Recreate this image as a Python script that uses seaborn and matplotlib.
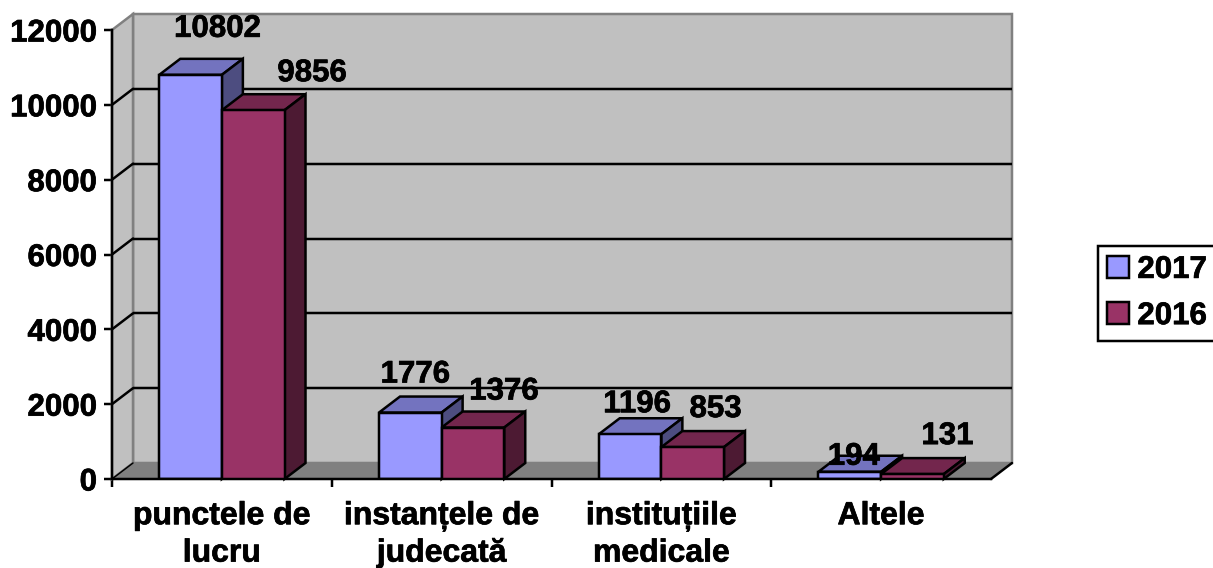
#!/usr/bin/env python3
import pandas as pd
import matplotlib
matplotlib.use('Agg')
import matplotlib.pyplot as plt
import matplotlib.patheffects as pe
from matplotlib.patches import Polygon
from matplotlib.transforms import Affine2D, IdentityTransform
import seaborn as sns

categories = ['punctele de\nlucru', 'instanțele de\njudecată', 'instituțiile\nmedicale', 'Altele']
values_2017 = [10802, 1776, 1196, 194]
values_2016 = [9856, 1376, 853, 131]
series_names = ['2017', '2016']
y_ticks = [0, 2000, 4000, 6000, 8000, 10000, 12000]

# label offsets from the bar top centre, in pixels
offsets_2017 = [(27, 46), (5, 38), (7, 30), (4, 15)]
offsets_2016 = [(59, 37), (31, 36), (23, 38), (35, 38)]

W, H = 1213, 568
DX, DY = 21, 16  # depth of the fake 3d box
LW = 2.5 * 0.72
FS = 22.5

colors = {'2017': '#9999FF', '2016': '#993366'}
top_colors = ['#7373BF', '#73264D']
side_colors = ['#4D4D80', '#4D1A33']
heavy = [pe.withStroke(linewidth=0.5, foreground='black')]

sns.set_theme(style='white')
plt.rcParams['font.family'] = ['Liberation Sans', 'DejaVu Sans']
plt.rcParams['font.weight'] = 'bold'

df = pd.DataFrame({
    'cat': categories * 2,
    'val': values_2017 + values_2016,
    'year': [series_names[0]] * 4 + [series_names[1]] * 4,
})

fig = plt.figure(figsize=(W / 100, H / 100), dpi=100)
ax = fig.add_axes([112 / W, 1 - 479 / H, (991 - 112) / W, (479 - 30) / H])
ax.patch.set_alpha(0)

sns.barplot(data=df, x='cat', y='val', hue='year', palette=colors, width=0.57, gap=0,
            dodge=True, saturation=1, edgecolor='black', linewidth=LW, ax=ax, zorder=5)
ax.set_xlim(-0.5, 3.5)
ax.set_ylim(0, 12000)
ax.set_xlabel('')
ax.set_ylabel('')
ax.set_yticks(y_ticks)
ax.tick_params(axis='y', length=5.8, width=LW, color='black', labelsize=FS, pad=5, left=True, labelcolor='black')
ax.set_xticks([-0.5, 0.5, 1.5, 2.5], minor=True)
ax.tick_params(axis='x', which='minor', length=5.8, width=LW, color='black', bottom=True)
ax.tick_params(axis='x', which='major', length=0, labelsize=23, pad=16, labelcolor='black')
for lab in ax.get_xticklabels():
    lab.set_linespacing(1.32)
    lab.set_path_effects(heavy)
for lab in ax.get_yticklabels():
    lab.set_path_effects(heavy)
for side in ['top', 'right']:
    ax.spines[side].set_visible(False)
for side in ['left', 'bottom']:
    ax.spines[side].set_color('black')
    ax.spines[side].set_linewidth(LW)
    ax.spines[side].set_zorder(6)

# back wall, left wall and floor
px = IdentityTransform()
back = ax.transData + Affine2D().translate(DX, DY)
to_px = ax.transData.transform
x0, x1 = -0.5, 3.5
top = y_ticks[-1]


def face(points, color, z, edge=None, lw=0):
    ax.add_patch(Polygon(points, closed=True, facecolor=color, edgecolor=edge or color,
                         linewidth=lw, transform=px, clip_on=False, zorder=z, joinstyle='miter'))


def shift(p):
    return (p[0] + DX, p[1] + DY)


bl, br, tl, tr = to_px((x0, 0)), to_px((x1, 0)), to_px((x0, top)), to_px((x1, top))
face([shift(bl), shift(br), shift(tr), shift(tl)], '#C0C0C0', 0.5, '#808080', LW)
face([bl, shift(bl), shift(tl), tl], '#C0C0C0', 0.6, '#808080', LW)
face([bl, br, shift(br), shift(bl)], '#808080', 0.7)

for t in y_ticks[1:-1]:
    ax.plot([x0, x1], [t, t], color='black', lw=LW, transform=back, clip_on=False, zorder=1,
            solid_capstyle='butt')
    a = to_px((x0, t))
    ax.plot([a[0], a[0] + DX], [a[1], a[1] + DY], color='black', lw=LW, transform=px,
            clip_on=False, zorder=1)
ax.plot([br[0], br[0] + DX], [br[1], br[1] + DY], color='black', lw=LW, transform=px,
        clip_on=False, zorder=1)
ax.plot([bl[0], bl[0] + DX], [bl[1], bl[1] + DY], color='black', lw=LW * 0.6, transform=px,
        clip_on=False, zorder=1)

# bars: sides and tops, later series covers the earlier one
all_offsets = [offsets_2017, offsets_2016]
for i, cont in enumerate(ax.containers):
    z = 5 + i
    for bar, off in zip(cont.patches, all_offsets[i]):
        bar.set_zorder(z + 0.2)
        xa, xb = bar.get_x(), bar.get_x() + bar.get_width()
        h = bar.get_height()
        p0, p1, p2 = to_px((xa, h)), to_px((xb, h)), to_px((xb, 0))
        face([p0, p1, shift(p1), shift(p0)], top_colors[i], z, 'black', LW)
        face([p2, p1, shift(p1), shift(p2)], side_colors[i], z, 'black', LW)
        ann = ax.annotate(f'{int(h)}', xy=((xa + xb) / 2, h), xytext=(off[0] * 0.72, off[1] * 0.72),
                          textcoords='offset points', ha='center', va='center', fontsize=FS,
                          fontweight='bold', color='black', zorder=20, annotation_clip=False)
        ann.set_path_effects(heavy)

handles, labels = ax.get_legend_handles_labels()
ax.legend_.remove()
leg = fig.legend(handles, labels, loc='center left', bbox_to_anchor=(1098 / W, 1 - 293 / H),
                 frameon=True, fancybox=False, framealpha=1, edgecolor='black', fontsize=FS,
                 handlelength=0.7, handleheight=0.68, handletextpad=0.26, labelspacing=0.52,
                 borderpad=0.3, borderaxespad=0, labelcolor='black')
leg.get_frame().set_linewidth(LW)
for t in leg.get_texts():
    t.set_path_effects(heavy)

fig.savefig('out.png', dpi=100)
